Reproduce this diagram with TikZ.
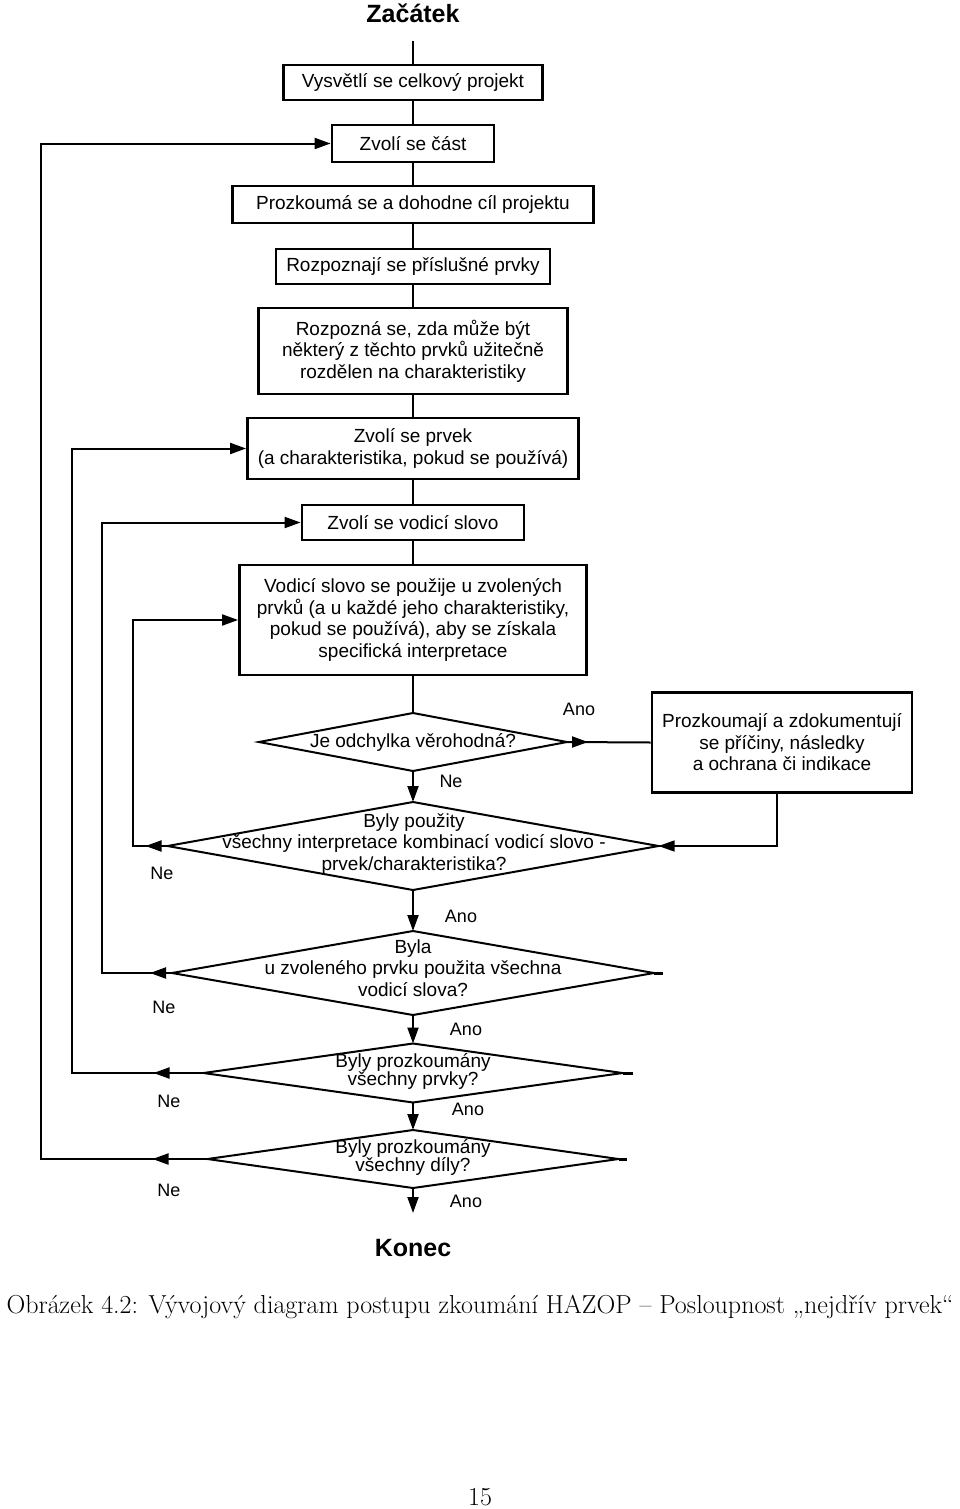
\documentclass[tikz,border=0pt]{standalone}
\usepackage{fontspec}
\newfontfamily\diafont{Liberation Sans}
\usetikzlibrary{shapes.geometric,arrows.meta}

\begin{document}
\begin{tikzpicture}[x=1pt,y=-1pt,
    font=\diafont\fontsize{19}{21.5}\selectfont,
    box/.style={draw, line width=2.8pt, align=center, inner sep=0pt},
    dec/.style={diamond, draw, line width=2pt, inner sep=0pt, outer sep=0pt},
    line/.style={line width=2pt},
    arr/.style={line width=2pt, -{Triangle[length=16pt,width=11pt]}},
    yesno/.style={font=\diafont\fontsize{18}{20}\selectfont},
    term/.style={font=\diafont\bfseries\fontsize{25}{28}\selectfont},
    capt/.style={font=\rmfamily\fontsize{26}{30}\selectfont}]
  \useasboundingbox (0,0) rectangle (960,1509);

  % start and boxes
  \node[term] (start) at (413,13) {Začátek};
  \node[box, minimum width=259pt, minimum height=35pt] (b1) at (413,82.5) {Vysvětlí se celkový projekt};
  \node[box, minimum width=162pt, minimum height=37pt] (b2) at (413,143.5) {Zvolí se část};
  \node[box, minimum width=361pt, minimum height=37pt] (b3) at (413,204.5) {Prozkoumá se a dohodne cíl projektu};
  \node[box, minimum width=274pt, minimum height=35pt] (b4) at (413,266.5) {Rozpoznají se příslušné prvky};
  \node[box, minimum width=309pt, minimum height=86pt] (b5) at (413,351)
    {Rozpozná se, zda může být\\některý z těchto prvků užitečně\\rozdělen na charakteristiky};
  \node[box, minimum width=331pt, minimum height=61pt] (b6) at (413,448.5)
    {Zvolí se prvek\\(a charakteristika, pokud se používá)};
  \node[box, minimum width=222pt, minimum height=35pt] (b7) at (413,522.5) {Zvolí se vodicí slovo};
  \node[box, minimum width=347pt, minimum height=110pt] (b8) at (413,620)
    {Vodicí slovo se použije u zvolených\\prvků (a u každé jeho charakteristiky,\\pokud se používá), aby se získala\\specifická interpretace};
  \node[box, minimum width=260pt, minimum height=100pt] (b9) at (782,742.5)
    {Prozkoumají a zdokumentují\\se příčiny, následky\\a ochrana či indikace};

  % decisions
  \node[dec, minimum width=308pt, minimum height=58pt] (d1) at (413,742) {};
  \node[dec, minimum width=491pt, minimum height=88pt] (d2) at (413,846) {};
  \node[dec, minimum width=482pt, minimum height=84pt] (d3) at (413,973) {};
  \node[dec, minimum width=419pt, minimum height=59pt] (d4) at (413,1073) {};
  \node[dec, minimum width=411pt, minimum height=58pt] (d5) at (413,1159) {};
  \node[align=center] (t1) at (d1) {Je odchylka věrohodná?};
  \node[align=center] (t2) at (414,844)
    {Byly použity\\všechny interpretace kombinací vodicí slovo -\\prvek/charakteristika?};
  \node[align=center] (t3) at (413,968)
    {Byla\\u zvoleného prvku použita všechna\\vodicí slova?};
  \node[align=center, font=\diafont\fontsize{19}{18}\selectfont] (t4) at (413,1071)
    {Byly prozkoumány\\všechny prvky?};
  \node[align=center, font=\diafont\fontsize{19}{18}\selectfont] (t5) at (413,1157)
    {Byly prozkoumány\\všechny díly?};
  \coordinate (stop) at (413,1213);
  \node[term] (konec) at (413,1248) {Konec};

  % labels
  \node[yesno] (a1) at (579,709) {Ano};
  \node[yesno] (n1) at (451,781) {Ne};
  \node[yesno] (n2) at (162,873) {Ne};
  \node[yesno] (a2) at (461,916) {Ano};
  \node[yesno] (n3) at (164,1007) {Ne};
  \node[yesno] (a3) at (466,1029) {Ano};
  \node[yesno] (n4) at (169,1101) {Ne};
  \node[yesno] (a4) at (468,1109) {Ano};
  \node[yesno] (n5) at (169,1190) {Ne};
  \node[yesno] (a5) at (466,1201) {Ano};

  % main column
  \draw[line] ([yshift=-15pt]start.south) -- (b1.north);
  \draw[line] (b1.south) -- (b2.north);
  \draw[line] (b2.south) -- (b3.north);
  \draw[line] (b3.south) -- (b4.north);
  \draw[line] (b4.south) -- (b5.north);
  \draw[line] (b5.south) -- (b6.north);
  \draw[line] (b6.south) -- (b7.north);
  \draw[line] (b7.south) -- (b8.north);
  \draw[line] (b8.south) -- (d1.north);
  \draw[arr] (d1.south) -- (d2.north);
  \draw[arr] (d2.south) -- (d3.north);
  \draw[arr] (d3.south) -- (d4.north);
  \draw[arr] (d4.south) -- (d5.north);
  \draw[arr] (d5.south) -- (stop);

  % yes branch
  \draw[line] (d1.east) -- (b9.west);
  \draw[arr] (d1.east) -- ++(21,0);
  \draw[arr, line width=1.3pt] ([xshift=-5pt]b9.south) |- (d2.east);
  \draw[line, line width=3pt] (d3.east) -- ++(9,0);
  \draw[line, line width=3pt] (d4.east) -- ++(10,0);
  \draw[line, line width=3pt] (d5.east) -- ++(8,0);

  % loops back
  \coordinate (l2) at (133,0);
  \coordinate (l3) at (102,0);
  \coordinate (l4) at (72,0);
  \coordinate (l5) at (41,0);
  \draw[arr] (d2.west) -- ++(-22,0);
  \draw[arr] (d2.west) -- (d2.west -| l2) |- (b8.west);
  \draw[arr] (d3.west) -- ++(-22,0);
  \draw[arr] (d3.west) -- (d3.west -| l3) |- (b7.west);
  \draw[arr] (d4.west) -- ++(-50,0);
  \draw[arr] (d4.west) -- (d4.west -| l4) |- (b6.west);
  \draw[arr] (d5.west) -- ++(-55,0);
  \draw[arr] (d5.west) -- (d5.west -| l5) |- (b2.west);

  % caption
  \node[capt] (cap) at (480,1307)
    {Obrázek 4.2: Vývojový diagram postupu zkoumání HAZOP – Posloupnost „nejdřív prvek“};
  \node[capt] (page) at (480,1497) {15};
\end{tikzpicture}
\end{document}
